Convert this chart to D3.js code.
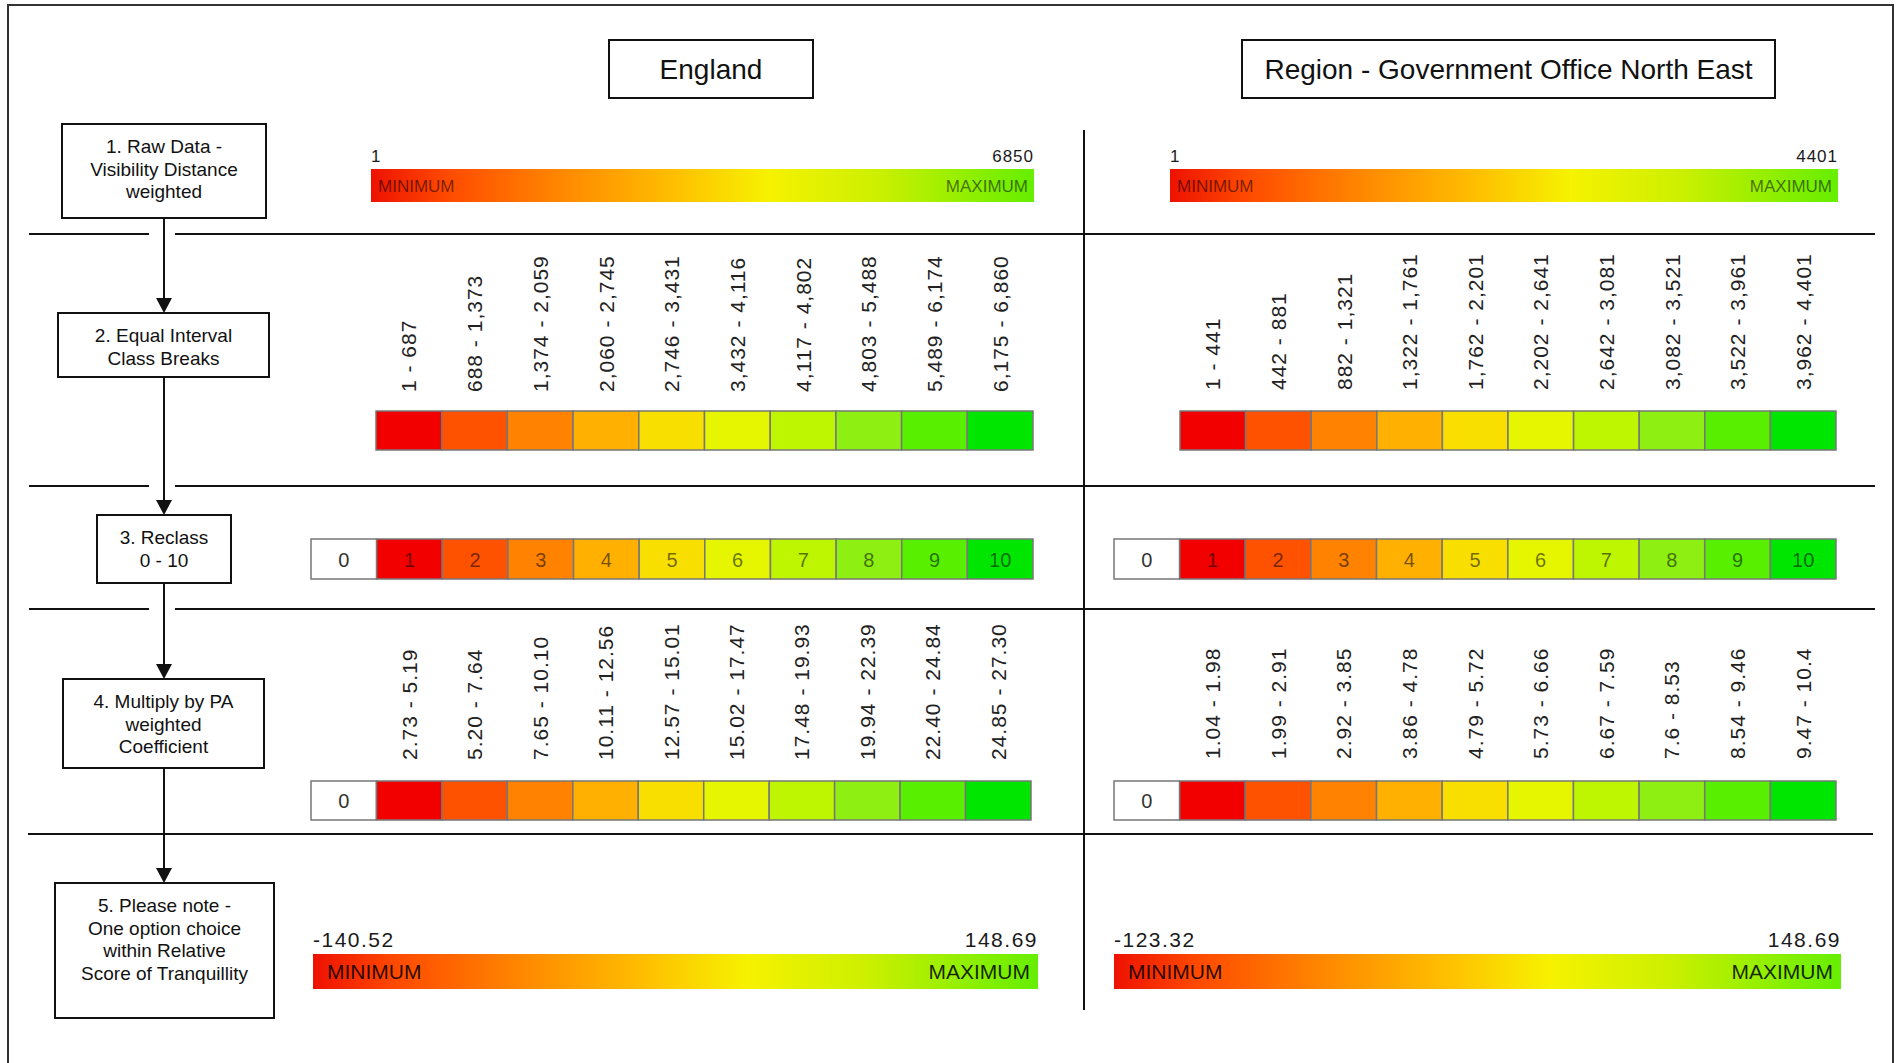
<!DOCTYPE html>
<html>
<head>
<meta charset="utf-8">
<script src="https://cdn.jsdelivr.net/npm/d3@7"></script>
<style>
  html, body { margin: 0; padding: 0; background: #fff; }
  svg { display: block; font-family: "Liberation Sans", Arial, sans-serif; }
</style>
</head>
<body>
<svg id="chart" width="1901" height="1063"></svg>
<script>
// ---------------- DATA ----------------
const areaTitles = ["England", "Region - Government Office North East"];
const stepLabels = [
  ["1. Raw Data -", "Visibility Distance", "weighted"],
  ["2.  Equal Interval", "Class Breaks"],
  ["3. Reclass", "0 - 10"],
  ["4. Multiply by PA", "weighted", "Coefficient"],
  ["5. Please note -", "One option choice", "within Relative", "Score of Tranquillity"]
];
const rawRangeEngland = [1, 6850];
const rawRangeRegion = [1, 4401];
const breaksEngland = ["1 - 687", "688 - 1,373", "1,374 - 2,059", "2,060 - 2,745", "2,746 - 3,431",
  "3,432 - 4,116", "4,117 - 4,802", "4,803 - 5,488", "5,489 - 6,174", "6,175 - 6,860"];
const breaksRegion = ["1 - 441", "442 - 881", "882 - 1,321", "1,322 - 1,761", "1,762 - 2,201",
  "2,202 - 2,641", "2,642 - 3,081", "3,082 - 3,521", "3,522 - 3,961", "3,962 - 4,401"];
const reclassValues = [0, 1, 2, 3, 4, 5, 6, 7, 8, 9, 10];
const paEngland = ["2.73 - 5.19", "5.20 - 7.64", "7.65 - 10.10", "10.11 - 12.56", "12.57 - 15.01",
  "15.02 - 17.47", "17.48 - 19.93", "19.94 - 22.39", "22.40 - 24.84", "24.85 - 27.30"];
const paRegion = ["1.04 - 1.98", "1.99 - 2.91", "2.92 - 3.85", "3.86 - 4.78", "4.79 - 5.72",
  "5.73 - 6.66", "6.67 - 7.59", "7.6 - 8.53", "8.54 - 9.46", "9.47 - 10.4"];
const scoreRangeEngland = [-140.52, 148.69];
const scoreRangeRegion = [-123.32, 148.69];
const classColors = ["#f20000", "#ff5200", "#ff8300", "#ffb000", "#f9df00",
  "#e6f600", "#bef500", "#8eef12", "#58f000", "#00e600"];
const gradientStops = [
  [0, "#ee1200"], [0.12, "#ff4c00"], [0.3, "#ff8c00"], [0.46, "#ffc000"],
  [0.6, "#f6f200"], [0.76, "#cdf000"], [1, "#66ee00"]
];

// ---------------- LAYOUT ----------------
const svg = d3.select("#chart");
const defs = svg.append("defs");
svg.append("rect").attr("width", 1901).attr("height", 1063).attr("fill", "#fff");

// outer frame
svg.append("rect").attr("x", 8).attr("y", 5).attr("width", 1885).attr("height", 1120)
  .attr("fill", "none").attr("stroke", "#333").attr("stroke-width", 2);

// title boxes
const titleBoxes = [[609, 40, 813, 98], [1242, 40, 1775, 98]];
areaTitles.forEach((t, i) => {
  const [x0, y0, x1, y1] = titleBoxes[i];
  svg.append("rect").attr("x", x0).attr("y", y0).attr("width", x1 - x0).attr("height", y1 - y0)
    .attr("fill", "#fff").attr("stroke", "#111").attr("stroke-width", 2);
  svg.append("text").attr("x", (x0 + x1) / 2).attr("y", (y0 + y1) / 2 + 10)
    .attr("text-anchor", "middle").attr("font-size", 28).attr("fill", "#111").text(t);
});

// horizontal separators
const sepYs = [234, 486, 609];
sepYs.forEach(y => {
  svg.append("line").attr("x1", 29).attr("x2", 149).attr("y1", y).attr("y2", y)
    .attr("stroke", "#111").attr("stroke-width", 2);
  svg.append("line").attr("x1", 175).attr("x2", 1875).attr("y1", y).attr("y2", y)
    .attr("stroke", "#111").attr("stroke-width", 2);
});
svg.append("line").attr("x1", 28).attr("x2", 1873).attr("y1", 834).attr("y2", 834)
  .attr("stroke", "#111").attr("stroke-width", 2);
// vertical divider
svg.append("line").attr("x1", 1084).attr("x2", 1084).attr("y1", 130).attr("y2", 1010)
  .attr("stroke", "#111").attr("stroke-width", 2);

// flow boxes
const stepBoxes = [[62, 124, 266, 218], [58, 313, 269, 377], [97, 515, 231, 583], [63, 679, 264, 768], [55, 883, 274, 1018]];
const flowX = 164;
stepBoxes.forEach((b, i) => {
  if (i > 0) {
    const prev = stepBoxes[i - 1];
    svg.append("line").attr("x1", flowX).attr("x2", flowX).attr("y1", prev[3]).attr("y2", b[1] - 12)
      .attr("stroke", "#111").attr("stroke-width", 2);
    svg.append("path")
      .attr("d", `M${flowX - 8},${b[1] - 15} L${flowX + 8},${b[1] - 15} L${flowX},${b[1]} Z`)
      .attr("fill", "#111");
  }
});
stepBoxes.forEach((b, i) => {
  const [x0, y0, x1, y1] = b;
  svg.append("rect").attr("x", x0).attr("y", y0).attr("width", x1 - x0).attr("height", y1 - y0)
    .attr("fill", "#fff").attr("stroke", "#111").attr("stroke-width", 2);
  const t = svg.append("text").attr("text-anchor", "middle").attr("font-size", 19).attr("fill", "#111");
  stepLabels[i].forEach((ln, k) => {
    t.append("tspan").attr("x", (x0 + x1) / 2).attr("y", y0 + 29 + k * 22.7).text(ln);
  });
});

// gradient helper
let gid = 0;
function gradientBar(x0, x1, y0, y1, range, o) {
  const id = "grad" + (gid++);
  const lg = defs.append("linearGradient").attr("id", id).attr("x1", "0%").attr("x2", "100%");
  gradientStops.forEach(s => lg.append("stop").attr("offset", s[0]).attr("stop-color", s[1]));
  const sc = d3.scaleLinear().domain(range).range([x0, x1]);
  svg.append("rect").attr("x", sc(range[0])).attr("y", y0)
    .attr("width", sc(range[1]) - sc(range[0])).attr("height", y1 - y0).attr("fill", `url(#${id})`);
  svg.append("text").attr("x", sc(range[0])).attr("y", y0 - o.numGap).attr("font-size", o.numSize)
    .attr("letter-spacing", o.ls).attr("fill", "#1a1a1a").text(String(range[0]));
  svg.append("text").attr("x", sc(range[1])).attr("y", y0 - o.numGap).attr("font-size", o.numSize)
    .attr("letter-spacing", o.ls).attr("text-anchor", "end").attr("fill", "#1a1a1a").text(String(range[1]));
  svg.append("text").attr("x", sc(range[0]) + o.padL).attr("y", (y0 + y1) / 2 + o.tdy)
    .attr("font-size", o.wordSize).attr("fill", "#000").attr("fill-opacity", o.wordOp).text("MINIMUM");
  svg.append("text").attr("x", sc(range[1]) - o.padR).attr("y", (y0 + y1) / 2 + o.tdy)
    .attr("font-size", o.wordSize).attr("text-anchor", "end").attr("fill", "#000")
    .attr("fill-opacity", o.wordOp).text("MAXIMUM");
}
const rawOpts = { numGap: 7, numSize: 17, ls: 1, padL: 7, padR: 6, tdy: 6.5, wordSize: 17, wordOp: 0.55 };
const scoreOpts = { numGap: 7.5, numSize: 21, ls: 1.5, padL: 14, padR: 8, tdy: 7.5, wordSize: 21, wordOp: 0.85 };
gradientBar(371, 1034, 169, 202, rawRangeEngland, rawOpts);
gradientBar(1170, 1838, 169, 202, rawRangeRegion, rawOpts);
gradientBar(313, 1038, 954, 989, scoreRangeEngland, scoreOpts);
gradientBar(1114, 1841, 954, 989, scoreRangeRegion, scoreOpts);

// class-break swatches with rotated labels
function classRow(x0, x1, y0, y1, labels, labelBottom) {
  const x = d3.scaleBand().domain(d3.range(labels.length)).range([x0, x1]);
  const g = svg.append("g");
  g.selectAll("rect").data(labels).join("rect")
    .attr("x", (d, i) => x(i)).attr("y", y0).attr("width", x.bandwidth()).attr("height", y1 - y0)
    .attr("fill", (d, i) => classColors[i]).attr("stroke", "#777").attr("stroke-width", 1.5);
  g.selectAll("text").data(labels).join("text")
    .attr("transform", (d, i) => `translate(${x(i) + x.bandwidth() / 2},${labelBottom}) rotate(-90)`)
    .attr("dy", "0.36em").attr("font-size", 21).attr("letter-spacing", 1).attr("fill", "#222")
    .text(d => d);
}
classRow(376, 1033, 411, 450, breaksEngland, 392);
classRow(1180, 1836, 411, 450, breaksRegion, 390);

// reclass rows (0..10)
function reclassRow(x0, x1, y0, y1, showNumbers, labels, labelBottom) {
  const x = d3.scaleBand().domain(reclassValues).range([x0, x1]);
  const g = svg.append("g");
  g.selectAll("rect").data(reclassValues).join("rect")
    .attr("x", d => x(d)).attr("y", y0).attr("width", x.bandwidth()).attr("height", y1 - y0)
    .attr("fill", d => d === 0 ? "#fff" : classColors[d - 1]).attr("stroke", "#777").attr("stroke-width", 1.5);
  g.selectAll("text.num").data(showNumbers ? reclassValues : [0]).join("text").attr("class", "num")
    .attr("x", d => x(d) + x.bandwidth() / 2).attr("y", (y0 + y1) / 2 + 7.5)
    .attr("text-anchor", "middle").attr("font-size", 20)
    .attr("fill", d => d === 0 ? "#333" : "#000").attr("fill-opacity", d => d === 0 ? 1 : 0.55)
    .text(d => d);
  if (labels) {
    g.selectAll("text.lab").data(labels).join("text").attr("class", "lab")
      .attr("transform", (d, i) => `translate(${x(i + 1) + x.bandwidth() / 2},${labelBottom}) rotate(-90)`)
      .attr("dy", "0.36em").attr("font-size", 21).attr("letter-spacing", 1).attr("fill", "#222")
      .text(d => d);
  }
}
reclassRow(311, 1033, 539, 579, true);
reclassRow(1114, 1836, 539, 579, true);
reclassRow(311, 1031, 781, 820, false, paEngland, 760);
reclassRow(1114, 1836, 781, 820, false, paRegion, 759);
</script>
</body>
</html>
